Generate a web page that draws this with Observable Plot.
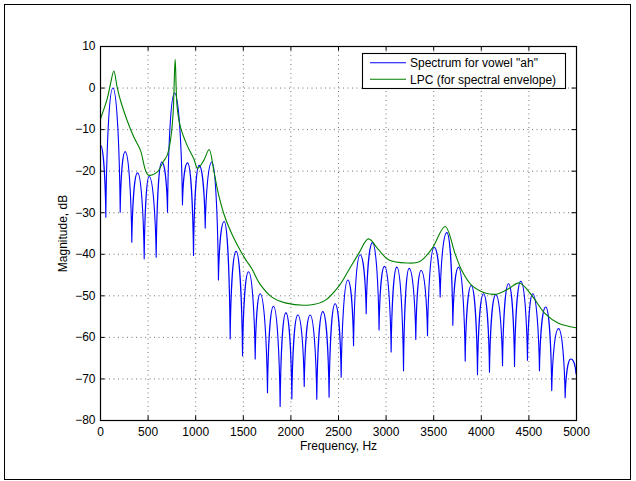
<!DOCTYPE html>
<html>
<head>
<meta charset="utf-8">
<script src="https://cdn.jsdelivr.net/npm/d3@7"></script>
<script src="https://cdn.jsdelivr.net/npm/@observablehq/plot@0.6"></script>
<style>
  html, body { margin: 0; padding: 0; background: #fff; }
  #wrap { position: relative; width: 636px; height: 481px; overflow: hidden; font-family: "Liberation Sans", Arial, sans-serif; }
  #border { position: absolute; left: 4px; top: 4px; width: 625px; height: 474px; border: 1.3px solid #000; pointer-events: none; }
</style>
</head>
<body>
<div id="wrap"><div id="chart"></div><div id="border"></div></div>
<script>
// ---- data ----
const xTicks = [0, 500, 1000, 1500, 2000, 2500, 3000, 3500, 4000, 4500, 5000];
const yTicks = [-80, -70, -60, -50, -40, -30, -20, -10, 0, 10];
const seriesNames = ['Spectrum for vowel "ah"', "LPC (for spectral envelope)"];

// Spectrum: alternating harmonic peaks and dips (Hz, dB)
const specFreq = [0, 56, 130, 207, 259, 329, 389, 459, 511, 585, 644, 704, 777, 861, 914, 977, 1036, 1100, 1170, 1239,
  1299, 1362, 1424, 1492, 1555, 1625, 1677, 1754, 1817, 1887, 1947, 2010, 2073, 2140, 2202, 2272, 2335, 2401, 2464, 2528,
  2598, 2658, 2727, 2791, 2857, 2926, 2983, 3053, 3113, 3183, 3242, 3312, 3368, 3435, 3505, 3568, 3638, 3701, 3761, 3831,
  3894, 3960, 4023, 4086, 4152, 4223, 4286, 4349, 4415, 4485, 4540, 4611, 4677, 4740, 4811, 4881, 4940, 4995];
const specDb = [-13.8, -31.1, 0.0, -29.9, -15.3, -37.1, -20.4, -41.1, -21.3, -40.7, -17.8, -29.9, -1.2, -28.1, -18.0, -40.3, -18.6, -33.7, -17.8, -46.2,
  -32.1, -60.4, -39.3, -64.4, -44.2, -65.2, -49.5, -73.3, -52.5, -76.6, -54.1, -74.8, -54.6, -71.8, -54.6, -74.9, -53.8, -74.4, -51.9, -69.6,
  -46.2, -62.0, -40.1, -54.3, -37.2, -58.2, -42.9, -63.5, -43.1, -68.0, -43.4, -60.5, -43.9, -59.6, -38.3, -50.3, -34.8, -57.1, -43.1, -65.7,
  -47.5, -69.0, -49.5, -68.4, -49.7, -66.8, -47.1, -67.0, -46.5, -65.5, -49.5, -68.0, -52.7, -72.8, -57.9, -74.5, -65.2, -68.8];

// LPC envelope (Hz, dB)
const lpcFreq = [0, 70, 105, 140, 175, 210, 280, 350, 420, 500, 592, 662, 700, 735, 763, 784, 805, 840, 910, 980,
  1020, 1085, 1141, 1190, 1239, 1308, 1380, 1450, 1520, 1590, 1670, 1800, 1940, 2202, 2360, 2510, 2605, 2710, 2815, 2920,
  3025, 3218, 3350, 3480, 3620, 3725, 3795, 3900, 4040, 4160, 4286, 4401, 4530, 4670, 4811, 5000];
const lpcDb = [-7.4, -2.6, 1.0, 4.1, 0.2, -3.0, -7.8, -11.8, -15.0, -20.9, -20.3, -17.6, -16.2, -12.6, -6.0, 6.9, -4.6, -9.4, -13.8, -17.0,
  -19.3, -17.4, -14.8, -19.9, -25.5, -31.1, -35.1, -38.3, -41.1, -43.5, -47.0, -50.3, -51.7, -52.2, -51.1, -47.5, -43.9, -39.9, -36.3, -38.9,
  -41.3, -42.1, -41.8, -38.7, -33.3, -39.9, -43.9, -47.5, -49.3, -49.6, -48.3, -46.9, -49.9, -54.3, -56.6, -57.7];

const spectrum = specFreq.map((f, i) => ({f, db: specDb[i]}));
const lpc = lpcFreq.map((f, i) => ({f, db: lpcDb[i]}));

// curve for harmonic lobes: rounded peaks, sharp dips
function lobes(context) {
  let pts = [];
  return {
    areaStart() {}, areaEnd() {},
    lineStart() { pts = []; },
    point(x, y) { pts.push([+x, +y]); },
    lineEnd() {
      if (!pts.length) return;
      context.moveTo(pts[0][0], pts[0][1]);
      for (let i = 1; i < pts.length; i++) {
        const [x0, y0] = pts[i - 1], [x1, y1] = pts[i];
        const dx = x1 - x0, dy = y1 - y0;
        if (dy > 0) { // peak -> dip (down on screen)
          context.bezierCurveTo(x0 + 0.5 * dx, y0, x1 - 0.1 * dx, y1 - 0.55 * dy, x1, y1);
        } else {      // dip -> peak
          context.bezierCurveTo(x0 + 0.1 * dx, y0 + 0.55 * dy, x1 - 0.5 * dx, y1, x1, y1);
        }
      }
    }
  };
}

const W = 636, H = 481;
const mL = 100, mR = 60, mT = 46, mB = 61;
const fw = W - mL - mR, fh = H - mT - mB;
const tl = 4.5;
const FONT = '"Liberation Sans", Arial, sans-serif';

const plot = Plot.plot({
  width: W, height: H,
  marginLeft: mL, marginRight: mR, marginTop: mT, marginBottom: mB,
  style: {fontFamily: FONT, fontSize: "12px", color: "#000", background: "transparent", overflow: "visible"},
  x: {domain: [0, 5000], ticks: xTicks, tickSize: 0, tickPadding: 7, tickFormat: d => String(d), label: null},
  y: {domain: [-80, 10], ticks: yTicks, tickSize: 0, tickPadding: 5, label: null},
  marks: [
    Plot.ruleX(xTicks.slice(1, -1), {x: d => d, stroke: "#000", strokeOpacity: 0.55, strokeDasharray: "1,3.5"}),
    Plot.ruleY(yTicks.slice(1, -1), {y: d => d, stroke: "#000", strokeOpacity: 0.55, strokeDasharray: "1,3.5"}),
    Plot.line(spectrum, {x: "f", y: "db", stroke: "#0000ff", strokeWidth: 1.1, curve: lobes, clip: true}),
    Plot.line(lpc, {x: "f", y: "db", stroke: "#008000", strokeWidth: 1.1, curve: "catmull-rom", clip: true}),
    Plot.tickX(xTicks, {x: d => d, insetTop: fh - tl, stroke: "#000"}),
    Plot.tickX(xTicks, {x: d => d, insetBottom: fh - tl, stroke: "#000"}),
    Plot.tickY(yTicks, {y: d => d, insetRight: fw - tl, stroke: "#000"}),
    Plot.tickY(yTicks, {y: d => d, insetLeft: fw - tl, stroke: "#000"}),
    Plot.frame({stroke: "#000", strokeWidth: 1.2}),
    Plot.text(["Frequency, Hz"], {frameAnchor: "bottom", lineAnchor: "middle", textAnchor: "middle", dy: 26, text: d => d, fill: "#000"}),
    Plot.text(["Magnitude, dB"], {frameAnchor: "left", lineAnchor: "middle", textAnchor: "middle", dx: -37, rotate: -90, text: d => d, fill: "#000"})
  ]
});
document.getElementById("chart").appendChild(plot);

// legend (drawn in the same SVG coordinate space)
const ns = "http://www.w3.org/2000/svg";
const lg = document.createElementNS(ns, "g");
lg.setAttribute("font-family", FONT);
lg.setAttribute("font-size", "12px");
lg.setAttribute("text-anchor", "start");
const box = document.createElementNS(ns, "rect");
box.setAttribute("x", 362.5); box.setAttribute("y", 53.5);
box.setAttribute("width", 203); box.setAttribute("height", 35);
box.setAttribute("fill", "#fff"); box.setAttribute("stroke", "#000"); box.setAttribute("stroke-width", 1.1);
lg.appendChild(box);
const colors = ["#0000ff", "#008000"];
const rowsY = [62.8, 79.2];
seriesNames.forEach((name, i) => {
  const ln = document.createElementNS(ns, "line");
  ln.setAttribute("x1", 370); ln.setAttribute("x2", 406);
  ln.setAttribute("y1", rowsY[i]); ln.setAttribute("y2", rowsY[i]);
  ln.setAttribute("stroke", colors[i]); ln.setAttribute("stroke-width", 1.1);
  lg.appendChild(ln);
  const tx = document.createElementNS(ns, "text");
  tx.setAttribute("x", 410); tx.setAttribute("y", rowsY[i] + 4.3);
  tx.setAttribute("fill", "#000");
  tx.setAttribute("text-anchor", "start");
  tx.textContent = name;
  lg.appendChild(tx);
});
plot.appendChild(lg);
</script>
</body>
</html>
